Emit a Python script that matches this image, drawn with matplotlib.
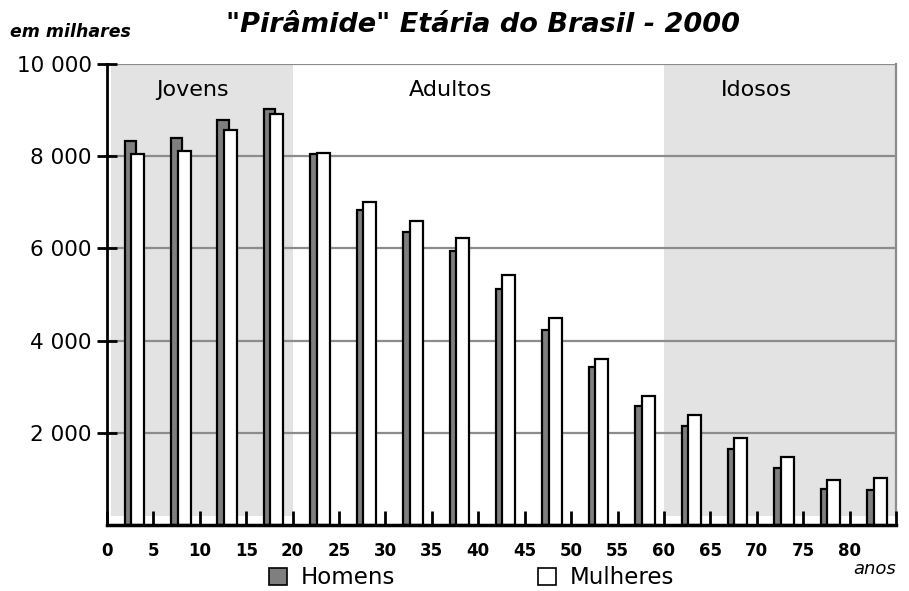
import matplotlib.pyplot as plt
from matplotlib.patches import Patch

plt.rcParams['font.family'] = ['DejaVu Sans']

# age group start (anos) and population in thousands
age_starts = [0, 5, 10, 15, 20, 25, 30, 35, 40, 45, 50, 55, 60, 65, 70, 75, 80]
homens = [8330, 8400, 8780, 9020, 8050, 6830, 6360, 5950, 5120, 4230, 3420, 2585, 2155, 1645, 1235, 790, 750]
mulheres = [8040, 8110, 8570, 8920, 8080, 7010, 6590, 6230, 5420, 4500, 3600, 2790, 2390, 1880, 1470, 975, 1020]

x_ticks = [0, 5, 10, 15, 20, 25, 30, 35, 40, 45, 50, 55, 60, 65, 70, 75, 80]
y_ticks = [2000, 4000, 6000, 8000, 10000]
y_tick_labels = ['2 000', '4 000', '6 000', '8 000', '10 000']

# shaded age bands and their labels
bands = [(0.4, 20), (60, 85)]
band_labels = [('Jovens', 9.2), ('Adultos', 37), ('Idosos', 70)]

fig = plt.figure(figsize=(9.09, 5.91), dpi=100)
ax = fig.add_axes([0.1177, 0.1117, 0.868, 0.7800])

for x0, x1 in bands:
    ax.fill_between([x0, x1], 200, 10000, color='#e3e3e3', lw=0, zorder=0)

for y in y_ticks:
    ax.axhline(y, color='#8c8c8c', lw=1.6, zorder=1)
ax.plot([85, 85], [200, 10000], color='#8c8c8c', lw=1.6, zorder=1, clip_on=False)

men_x = [a + 1.9 for a in age_starts]
women_x = [a + 2.6 for a in age_starts]
ax.bar(men_x, homens, width=1.2, align='edge', color='#7f7f7f',
       edgecolor='black', lw=1.6, zorder=3)
ax.bar(women_x, mulheres, width=1.4, align='edge', color='white',
       edgecolor='black', lw=1.6, zorder=4)

for txt, xc in band_labels:
    ax.text(xc, 9430, txt, ha='center', va='center', fontsize=16, zorder=5)

ax.set_xlim(0, 85)
ax.set_ylim(0, 10000)

ax.set_xticks(x_ticks + [85])
ax.set_xticklabels([str(v) for v in x_ticks] + [''], fontsize=12, fontweight='bold')
ax.tick_params(axis='x', direction='in', length=10, width=2, pad=12)
ax.set_yticks(y_ticks)
ax.set_yticklabels(y_tick_labels, fontsize=15.5)
ax.tick_params(axis='y', direction='inout', length=14, width=2, pad=4)

for s in ['top', 'right']:
    ax.spines[s].set_visible(False)
ax.spines['left'].set_linewidth(2)
ax.spines['bottom'].set_linewidth(2.5)
ax.spines['left'].set_zorder(6)
ax.spines['bottom'].set_zorder(6)

fig.text(0.531, 0.957, '"Pirâmide" Etária do Brasil - 2000', ha='center', va='center',
         fontsize=19.5, fontweight='bold', style='italic')
fig.text(0.011, 0.946, 'em milhares', ha='left', va='center',
         fontsize=12.5, fontweight='bold', style='italic')
fig.text(0.986, 0.038, 'anos', ha='right', va='center', fontsize=13, style='italic')

handles = [Patch(facecolor='#7f7f7f', edgecolor='black', lw=1.2, label='Homens'),
           Patch(facecolor='white', edgecolor='black', lw=1.2, label='Mulheres')]
fig.legend(handles=handles, loc='center left', bbox_to_anchor=(0.296, 0.022), ncol=2,
           frameon=False, fontsize=16.5, handlelength=0.8, handleheight=0.8,
           handletextpad=0.6, columnspacing=6.2, borderpad=0, borderaxespad=0)

fig.savefig('out.png', dpi=100)
